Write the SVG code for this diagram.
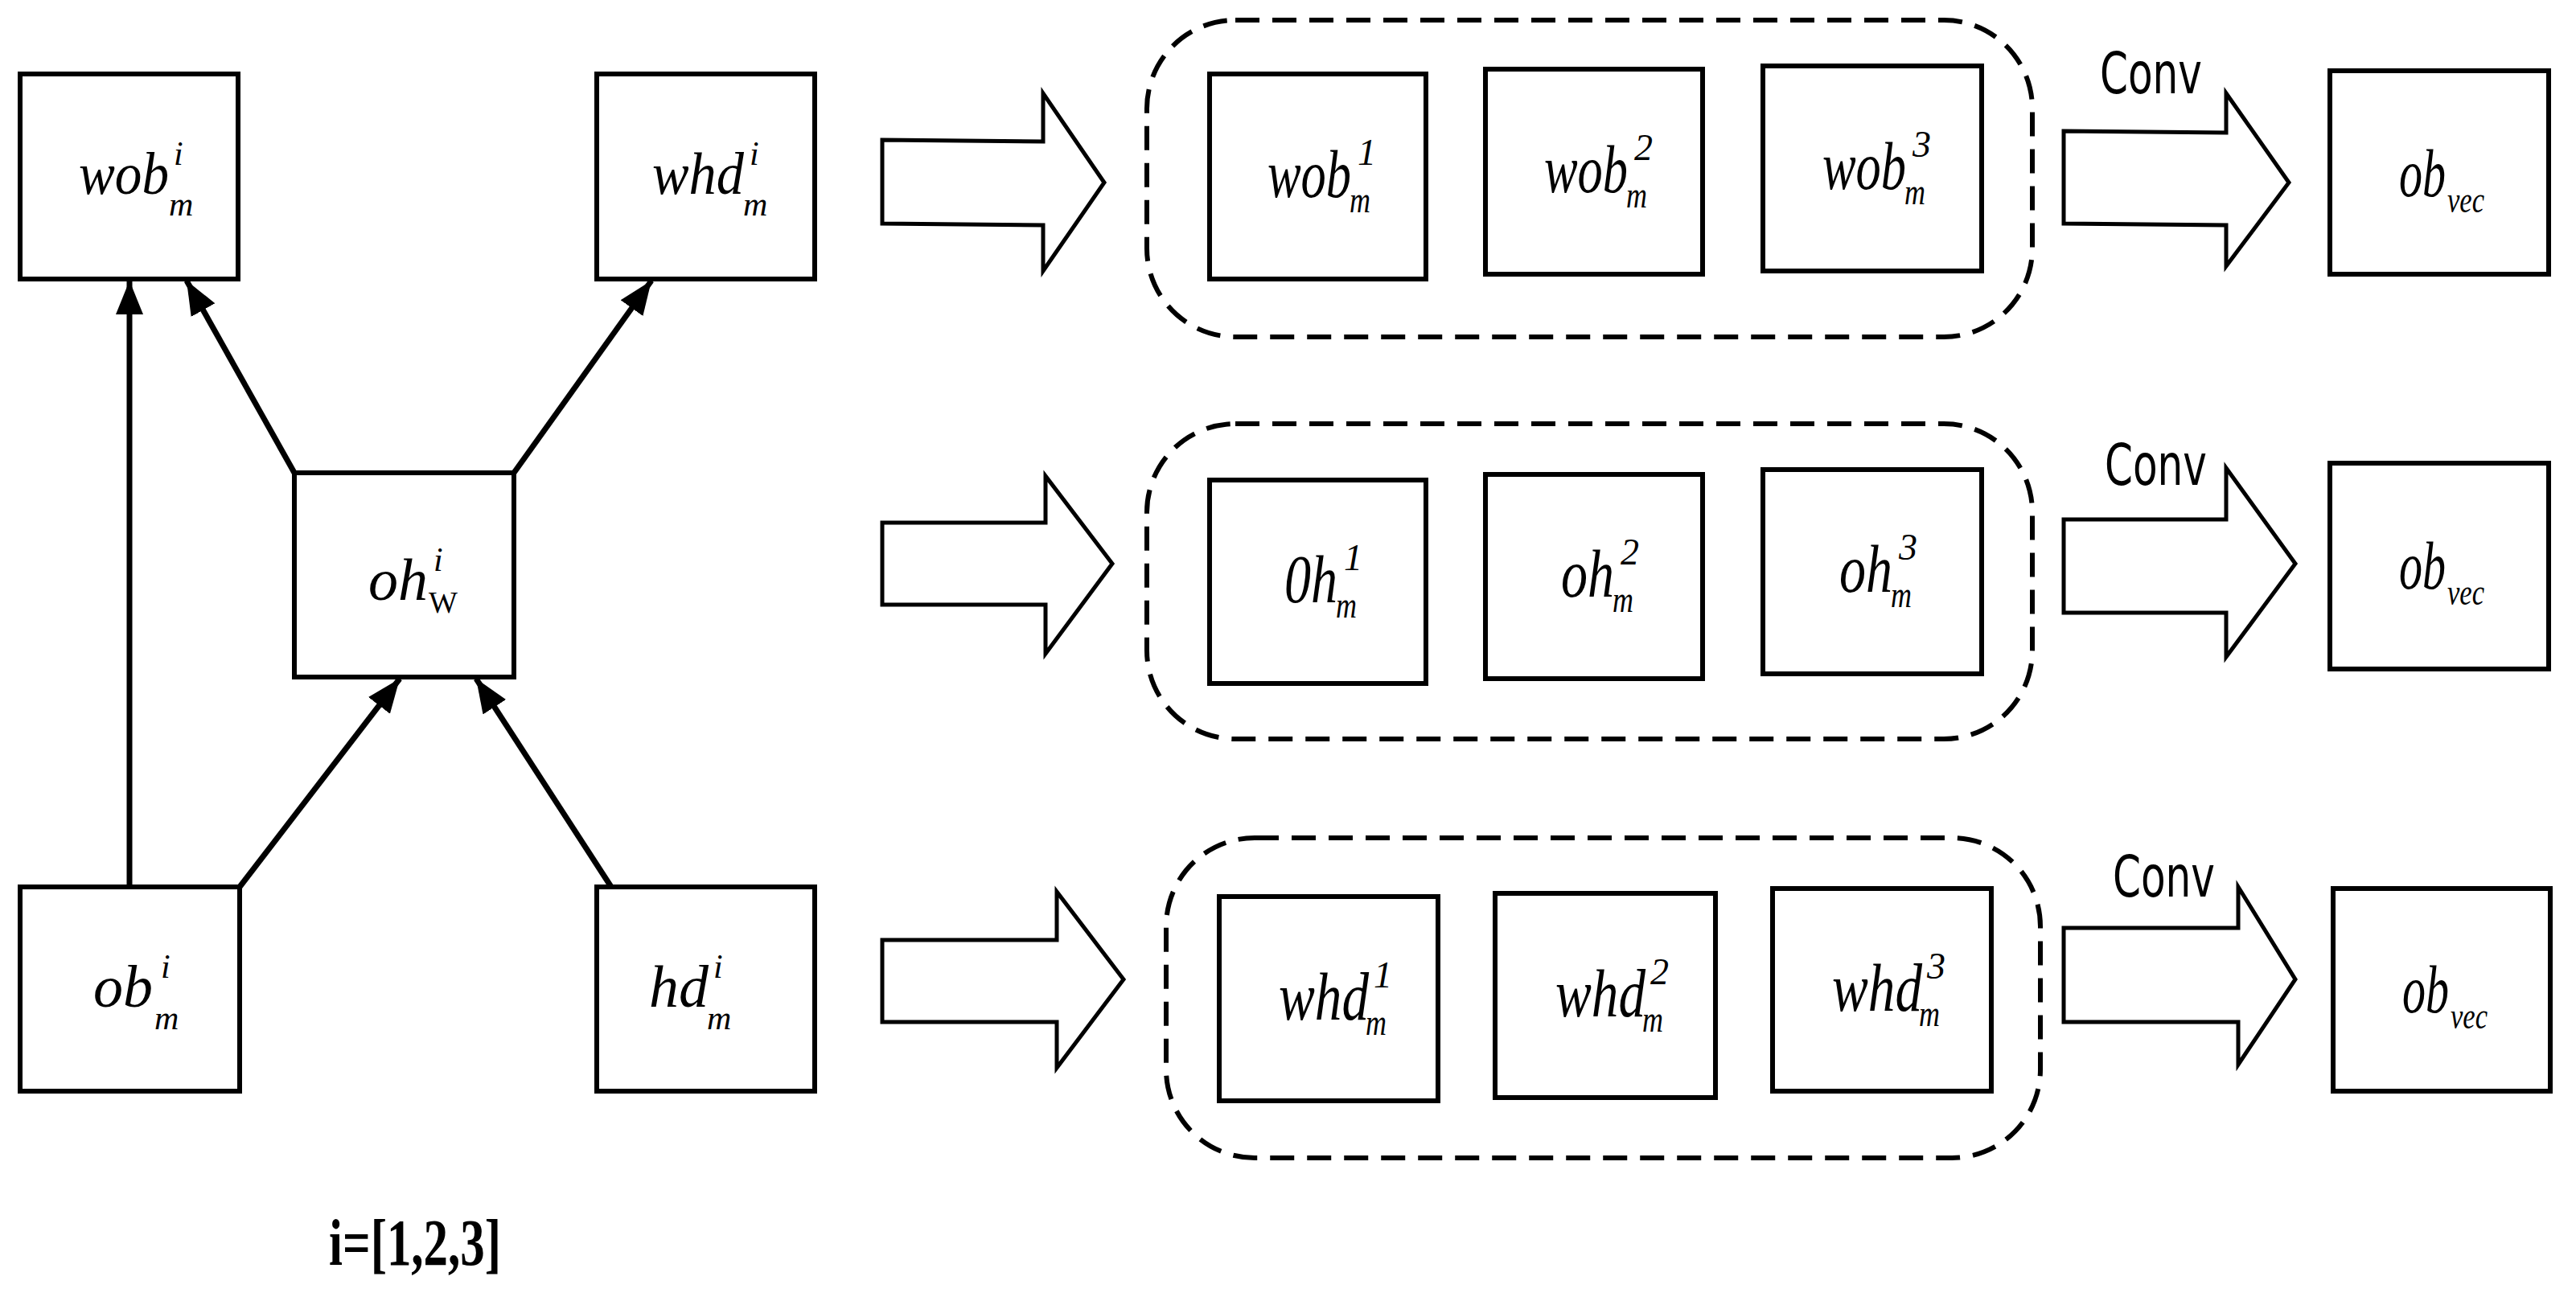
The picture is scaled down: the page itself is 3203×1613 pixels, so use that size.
<svg xmlns="http://www.w3.org/2000/svg" width="3203" height="1613" viewBox="0 0 3203 1613">
<style>
.box{fill:#fff;stroke:#000;stroke-width:6}
.cont{fill:none;stroke:#000;stroke-width:6;stroke-dasharray:30 16}
.blk{fill:#fff;stroke:#000;stroke-width:5;stroke-linejoin:miter}
.ln{stroke:#000;stroke-width:7;fill:none}
.it{font-family:"Liberation Serif",serif;font-style:italic;fill:#000}
.b{font-size:74px}
.s{font-size:42px}
.cb{font-size:84px}
.cs{font-size:46px}
.conv{font-family:"DejaVu Sans Condensed","DejaVu Sans",sans-serif;font-size:72px;fill:#000}
</style>
<defs>
<marker id="ah" markerUnits="userSpaceOnUse" markerWidth="46" markerHeight="36" refX="42" refY="17" orient="auto"><path d="M0,0 L42,17 L0,34 z" fill="#000"/></marker>
</defs>
<rect width="3203" height="1613" fill="#fff"/>
<g id="connectors">
<line class="ln" x1="161" y1="1103" x2="161" y2="349" marker-end="url(#ah)"/>
<line class="ln" x1="366" y1="588" x2="232" y2="349" marker-end="url(#ah)"/>
<line class="ln" x1="639" y1="588" x2="810" y2="349" marker-end="url(#ah)"/>
<line class="ln" x1="298" y1="1103" x2="497" y2="844" marker-end="url(#ah)"/>
<line class="ln" x1="760" y1="1103" x2="592" y2="844" marker-end="url(#ah)"/>
<polygon class="blk" points="1097,174 1297,176 1297,116 1373,227 1297,337 1297,280 1097,278"/>
<polygon class="blk" points="1097,650 1300,650 1300,592 1383,701 1300,813 1300,752 1097,752"/>
<polygon class="blk" points="1097,1169 1314,1169 1314,1109 1397,1218 1314,1328 1314,1271 1097,1271"/>
<polygon class="blk" points="2566,163 2768,165 2768,116 2846,227 2768,331 2768,280 2566,278"/>
<polygon class="blk" points="2566,646 2768,646 2768,582 2854,701 2768,817 2768,762 2566,762"/>
<polygon class="blk" points="2566,1154 2783,1154 2783,1103 2854,1218 2783,1324 2783,1271 2566,1271"/>
</g>
<g id="n-wob"><rect class="box" x="25" y="92" width="271" height="255"/><text class="it b" x="98" y="241" textLength="112" lengthAdjust="spacingAndGlyphs">wob</text><text class="it s" x="216" y="205">i</text><text class="it s" x="210" y="268">m</text></g>
<g id="n-whd"><rect class="box" x="742" y="92" width="271" height="255"/><text class="it b" x="811" y="241" textLength="114" lengthAdjust="spacingAndGlyphs">whd</text><text class="it s" x="932" y="205">i</text><text class="it s" x="924" y="268">m</text></g>
<g id="n-ohw"><rect class="box" x="366" y="588" width="273" height="254"/><text class="it b" x="458" y="746">oh</text><text class="it s" x="539" y="710">i</text><text x="533" y="762" font-family="Liberation Serif,serif" font-size="38">W</text></g>
<g id="n-ob"><rect class="box" x="25" y="1103" width="273" height="254"/><text class="it b" x="116" y="1252">ob</text><text class="it s" x="200" y="1216">i</text><text class="it s" x="192" y="1280">m</text></g>
<g id="n-hd"><rect class="box" x="742" y="1103" width="271" height="254"/><text class="it b" x="807" y="1252">hd</text><text class="it s" x="887" y="1216">i</text><text class="it s" x="879" y="1280">m</text></g>
<text x="409" y="1573" font-family="Liberation Serif,serif" font-weight="bold" font-size="82" textLength="214" lengthAdjust="spacingAndGlyphs">i=[1,2,3]</text>
<g id="c1"><rect class="cont" x="1426" y="25" width="1101" height="394" rx="110"/></g>
<g id="c2"><rect class="cont" x="1426" y="527" width="1101" height="392" rx="110"/></g>
<g id="c3"><rect class="cont" x="1450" y="1042" width="1087" height="398" rx="110"/></g>
<g id="r1a"><rect class="box" x="1504" y="92" width="269" height="255"/><text class="it cb" x="1576" y="245" textLength="104" lengthAdjust="spacingAndGlyphs">wob</text><text class="it cs" x="1688" y="205">1</text><text class="it cs" x="1678" y="264" textLength="26" lengthAdjust="spacingAndGlyphs">m</text></g>
<g id="r1b"><rect class="box" x="1847" y="86" width="270" height="255"/><text class="it cb" x="1920" y="239" textLength="104" lengthAdjust="spacingAndGlyphs">wob</text><text class="it cs" x="2032" y="199">2</text><text class="it cs" x="2022" y="258" textLength="26" lengthAdjust="spacingAndGlyphs">m</text></g>
<g id="r1c"><rect class="box" x="2192" y="82" width="272" height="255"/><text class="it cb" x="2266" y="235" textLength="104" lengthAdjust="spacingAndGlyphs">wob</text><text class="it cs" x="2378" y="195">3</text><text class="it cs" x="2368" y="254" textLength="26" lengthAdjust="spacingAndGlyphs">m</text></g>
<g id="r1v"><rect class="box" x="2897" y="88" width="272" height="253"/><text class="it cb" x="2983" y="244" textLength="58" lengthAdjust="spacingAndGlyphs">ob</text><text class="it cs" x="3043" y="264" textLength="46" lengthAdjust="spacingAndGlyphs">vec</text></g>
<g id="r2a"><rect class="box" x="1504" y="597" width="269" height="253"/><text class="it cb" x="1597" y="749" textLength="66" lengthAdjust="spacingAndGlyphs">0h</text><text class="it cs" x="1671" y="709">1</text><text class="it cs" x="1661" y="768" textLength="26" lengthAdjust="spacingAndGlyphs">m</text></g>
<g id="r2b"><rect class="box" x="1847" y="590" width="270" height="254"/><text class="it cb" x="1941" y="742" textLength="66" lengthAdjust="spacingAndGlyphs">oh</text><text class="it cs" x="2015" y="702">2</text><text class="it cs" x="2005" y="761" textLength="26" lengthAdjust="spacingAndGlyphs">m</text></g>
<g id="r2c"><rect class="box" x="2192" y="584" width="272" height="254"/><text class="it cb" x="2287" y="736" textLength="66" lengthAdjust="spacingAndGlyphs">oh</text><text class="it cs" x="2361" y="696">3</text><text class="it cs" x="2351" y="755" textLength="26" lengthAdjust="spacingAndGlyphs">m</text></g>
<g id="r2v"><rect class="box" x="2897" y="576" width="272" height="256"/><text class="it cb" x="2983" y="732" textLength="58" lengthAdjust="spacingAndGlyphs">ob</text><text class="it cs" x="3043" y="752" textLength="46" lengthAdjust="spacingAndGlyphs">vec</text></g>
<g id="r3a"><rect class="box" x="1516" y="1115" width="272" height="254"/><text class="it cb" x="1590" y="1268" textLength="112" lengthAdjust="spacingAndGlyphs">whd</text><text class="it cs" x="1708" y="1228">1</text><text class="it cs" x="1698" y="1287" textLength="26" lengthAdjust="spacingAndGlyphs">m</text></g>
<g id="r3b"><rect class="box" x="1859" y="1111" width="274" height="254"/><text class="it cb" x="1934" y="1264" textLength="112" lengthAdjust="spacingAndGlyphs">whd</text><text class="it cs" x="2052" y="1224">2</text><text class="it cs" x="2042" y="1283" textLength="26" lengthAdjust="spacingAndGlyphs">m</text></g>
<g id="r3c"><rect class="box" x="2204" y="1105" width="272" height="252"/><text class="it cb" x="2278" y="1257" textLength="112" lengthAdjust="spacingAndGlyphs">whd</text><text class="it cs" x="2396" y="1217">3</text><text class="it cs" x="2386" y="1276" textLength="26" lengthAdjust="spacingAndGlyphs">m</text></g>
<g id="r3v"><rect class="box" x="2901" y="1105" width="270" height="252"/><text class="it cb" x="2987" y="1259" textLength="58" lengthAdjust="spacingAndGlyphs">ob</text><text class="it cs" x="3047" y="1279" textLength="46" lengthAdjust="spacingAndGlyphs">vec</text></g>
<text class="conv" x="2611" y="116" textLength="127" lengthAdjust="spacingAndGlyphs">Conv</text>
<text class="conv" x="2617" y="603" textLength="127" lengthAdjust="spacingAndGlyphs">Conv</text>
<text class="conv" x="2627" y="1115" textLength="127" lengthAdjust="spacingAndGlyphs">Conv</text>
</svg>
